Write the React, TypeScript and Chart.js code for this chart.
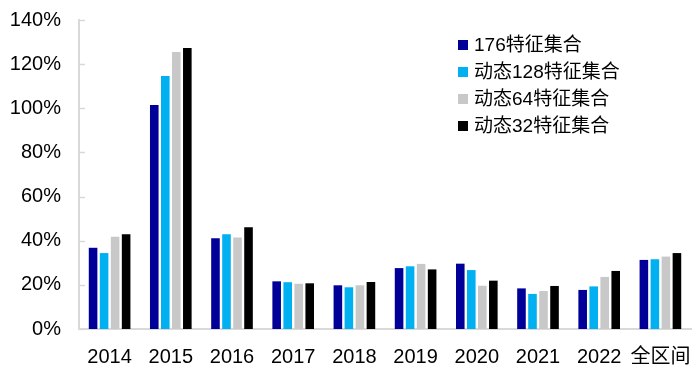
import React, { useEffect, useRef } from "react";
import { Chart, registerables } from "chart.js";

Chart.register(...registerables);

const categories = ["2014", "2015", "2016", "2017", "2018", "2019", "2020", "2021", "2022", "全区间"];
const seriesNames = ["176特征集合", "动态128特征集合", "动态64特征集合", "动态32特征集合"];
const s176 = [36.8, 101.5, 41.1, 21.6, 19.8, 27.6, 29.6, 18.4, 17.7, 31.3];
const s128 = [34.4, 114.6, 42.9, 21.2, 18.9, 28.4, 26.7, 15.9, 19.3, 31.6];
const s64 = [41.8, 125.5, 41.5, 20.5, 19.8, 29.5, 19.6, 17.2, 23.6, 32.8];
const s32 = [42.9, 127.3, 46.1, 20.7, 21.3, 27.0, 21.9, 19.5, 26.3, 34.4];
const colors = ["#000099", "#00B0F0", "#C8C8C8", "#000000"];
const yTicks = [0, 20, 40, 60, 80, 100, 120, 140];

const FONT = "'Liberation Sans', Arial, 'Noto Sans CJK SC', sans-serif";

const legendPlugin = {
  id: "insideLegend",
  afterDraw(chart: any) {
    const ctx = chart.ctx;
    ctx.save();
    ctx.font = `19px ${FONT}`;
    ctx.textBaseline = "middle";
    ctx.textAlign = "left";
    chart.data.datasets.forEach((ds: any, i: number) => {
      const y = 45 + i * 27;
      ctx.fillStyle = ds.backgroundColor;
      ctx.fillRect(458, y - 5, 10, 10);
      ctx.fillStyle = "#000";
      ctx.fillText(ds.label, 474, y + 1);
    });
    ctx.restore();
  },
};

const innerTicksPlugin = {
  id: "innerTicks",
  afterDraw(chart: any) {
    const ctx = chart.ctx;
    const ys = chart.scales.y;
    const left = chart.chartArea.left;
    ctx.save();
    ctx.strokeStyle = "#D9D9D9";
    ctx.lineWidth = 1.5;
    yTicks.forEach((v) => {
      const py = Math.round(ys.getPixelForValue(v)) + 0.5;
      ctx.beginPath();
      ctx.moveTo(left, py);
      ctx.lineTo(left + 6, py);
      ctx.stroke();
    });
    ctx.restore();
  },
};

export default function App() {
  const ref = useRef<HTMLCanvasElement>(null);
  useEffect(() => {
    const data = [s176, s128, s64, s32];
    const chart = new Chart(ref.current!, {
      type: "bar",
      data: {
        labels: categories,
        datasets: seriesNames.map((name, i) => ({
          label: name,
          data: data[i],
          backgroundColor: colors[i],
          borderWidth: 0,
          categoryPercentage: 0.72,
          barPercentage: 0.78,
        })),
      },
      options: {
        responsive: false,
        animation: false,
        layout: { padding: { top: 20, right: 8, left: 0, bottom: 0 } },
        plugins: { legend: { display: false }, tooltip: { enabled: false } },
        scales: {
          x: {
            grid: { display: false },
            border: { display: true, color: "#D9D9D9", width: 2 },
            ticks: { color: "#000", font: { size: 20, family: FONT }, padding: 8, maxRotation: 0, autoSkip: false },
            afterFit(scale: any) {
              scale.height = 46;
            },
          },
          y: {
            min: 0,
            max: 140,
            afterBuildTicks(scale: any) {
              scale.ticks = yTicks.map((v) => ({ value: v }));
            },
            grid: { display: false, drawTicks: true, tickLength: 18 },
            border: { display: true, color: "#D9D9D9", width: 2 },
            ticks: {
              color: "#000",
              font: { size: 20, family: FONT },
              padding: 0,
              callback: (v: any) => `${v}%`,
            },
            afterFit(scale: any) {
              scale.width = 79;
            },
          },
        },
      },
      plugins: [legendPlugin, innerTicksPlugin],
    });
    return () => chart.destroy();
  }, []);
  return (
    <div style={{ position: "fixed", left: 0, top: 0, width: 699, height: 375, background: "#fff" }}>
      <canvas ref={ref} width={699} height={375} style={{ display: "block" }} />
    </div>
  );
}
